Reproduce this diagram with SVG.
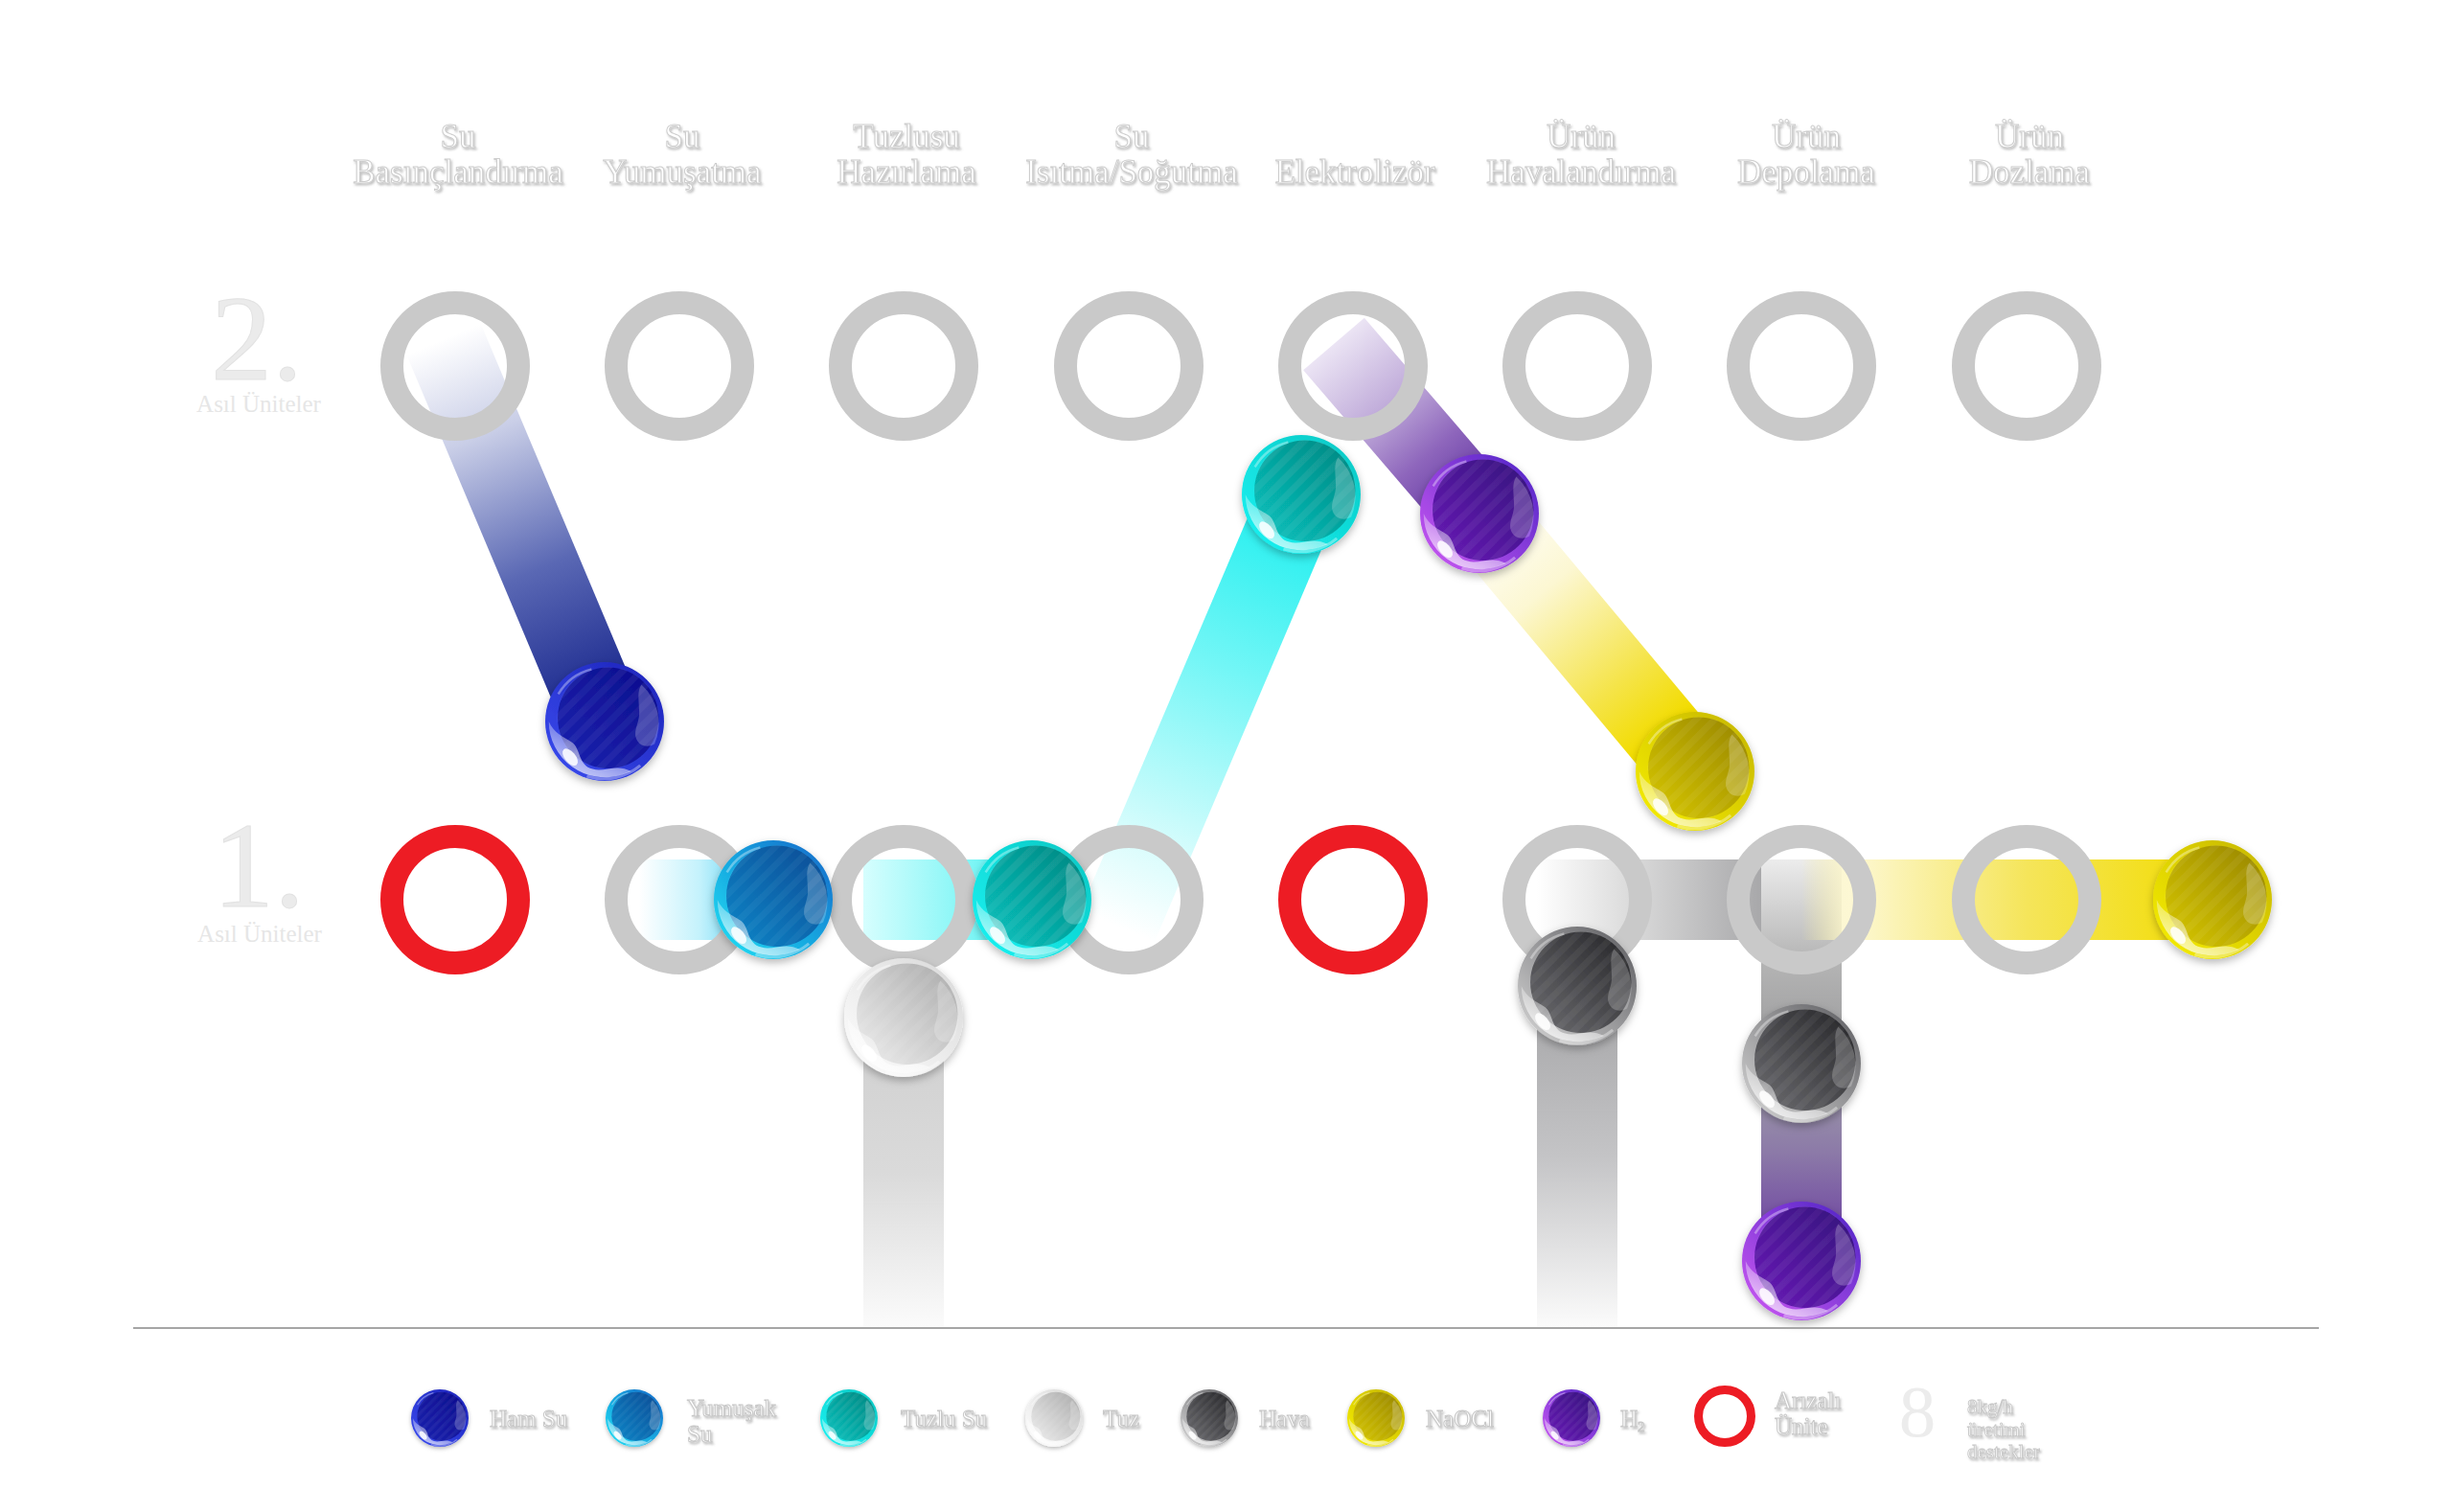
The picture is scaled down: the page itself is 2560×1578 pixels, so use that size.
<svg xmlns="http://www.w3.org/2000/svg" xmlns:xlink="http://www.w3.org/1999/xlink" width="2560" height="1578" viewBox="0 0 2560 1578">
<style>
.ring{fill:none;stroke:#c9c9c9;stroke-width:24}
.fault{fill:none;stroke:#ed1c24;stroke-width:24}
.hdr{font-family:"Liberation Serif","Times New Roman",serif;font-size:35px;fill:#ffffff;stroke:#cdcdcd;stroke-width:1;text-anchor:middle}
.big{font-family:"Liberation Serif","Times New Roman",serif;font-size:128px;fill:#ebebeb;stroke:#e2e2e2;stroke-width:1;text-anchor:middle}
.sub{font-family:"Liberation Serif","Times New Roman",serif;font-size:25px;fill:#e6e6e6;text-anchor:middle}
.leg{font-family:"Liberation Serif","Times New Roman",serif;font-size:25px;fill:#ffffff;stroke:#c8c8c8;stroke-width:1}
.legs{font-family:"Liberation Serif","Times New Roman",serif;font-size:21px;fill:#ffffff;stroke:#c8c8c8;stroke-width:0.9}
.band{fill:none;stroke-width:84;stroke-linecap:butt}
</style>
<defs>
<filter id="emboss" x="-10%" y="-40%" width="120%" height="180%"><feDropShadow dx="1.5" dy="2" stdDeviation="1.2" flood-color="#777" flood-opacity="0.45"/></filter>
<filter id="ballShadow" x="-30%" y="-30%" width="160%" height="170%"><feDropShadow dx="0" dy="6" stdDeviation="7" flood-color="#000" flood-opacity="0.28"/></filter>
<pattern id="stripes" patternUnits="userSpaceOnUse" width="22" height="22" patternTransform="rotate(45)"><rect width="11" height="22" fill="#ffffff" fill-opacity="0.05"/></pattern>
<linearGradient id="glossW" x1="0" y1="1" x2="0.6" y2="0"><stop offset="0" stop-color="#fff" stop-opacity="0.85"/><stop offset="0.6" stop-color="#fff" stop-opacity="0.4"/><stop offset="1" stop-color="#fff" stop-opacity="0.1"/></linearGradient>
<g id="gloss">
<circle r="86" cx="6" cy="-6" fill="url(#stripes)"/>
<path d="M -94 0 A 94 94 0 0 0 30 89 L 45 84 C 20 70 0 86 -20 80 C -45 74 -40 45 -55 35 C -70 25 -85 20 -94 0 Z" fill="url(#glossW)"/>
<ellipse cx="-58" cy="60" rx="9" ry="17" transform="rotate(-40 -58 60)" fill="#fff" fill-opacity="0.85"/>
<path d="M 62 -62 A 88 88 0 0 1 84 38 C 70 46 55 40 52 25 C 50 10 60 0 58 -20 C 57 -40 55 -52 62 -62 Z" fill="#fff" fill-opacity="0.22"/>
<path d="M -78 -46 A 90 90 0 0 1 -22 -88" fill="none" stroke="#fff" stroke-opacity="0.35" stroke-width="4"/>
<path d="M -30 92 A 95 95 0 0 0 60 74" fill="none" stroke="#fff" stroke-opacity="0.35" stroke-width="5"/>
</g>
<linearGradient id="hamB" x1="1" y1="0" x2="0" y2="1"><stop offset="0" stop-color="#1b22b8"/><stop offset="1" stop-color="#3a4cf0"/></linearGradient>
<linearGradient id="hamI" x1="1" y1="0" x2="0" y2="1"><stop offset="0" stop-color="#0c0c8c"/><stop offset="1" stop-color="#1a22b0"/></linearGradient>
<linearGradient id="yumB" x1="1" y1="0" x2="0" y2="1"><stop offset="0" stop-color="#1266c8"/><stop offset="1" stop-color="#1ee4f6"/></linearGradient>
<linearGradient id="yumI" x1="1" y1="0" x2="0" y2="1"><stop offset="0" stop-color="#074a94"/><stop offset="1" stop-color="#0a86c8"/></linearGradient>
<linearGradient id="tzlB" x1="1" y1="0" x2="0" y2="1"><stop offset="0" stop-color="#0cc6c2"/><stop offset="1" stop-color="#16f4f4"/></linearGradient>
<linearGradient id="tzlI" x1="1" y1="0" x2="0" y2="1"><stop offset="0" stop-color="#03857f"/><stop offset="1" stop-color="#08c4c0"/></linearGradient>
<linearGradient id="tuzB" x1="1" y1="0" x2="0" y2="1"><stop offset="0" stop-color="#d8d8d8"/><stop offset="1" stop-color="#ffffff"/></linearGradient>
<linearGradient id="tuzI" x1="1" y1="0" x2="0" y2="1"><stop offset="0" stop-color="#a9a9a9"/><stop offset="1" stop-color="#efefef"/></linearGradient>
<linearGradient id="havB" x1="1" y1="0" x2="0" y2="1"><stop offset="0" stop-color="#5a5a5e"/><stop offset="1" stop-color="#d8d8d8"/></linearGradient>
<linearGradient id="havI" x1="1" y1="0" x2="0" y2="1"><stop offset="0" stop-color="#232326"/><stop offset="1" stop-color="#6e6e72"/></linearGradient>
<linearGradient id="naoB" x1="1" y1="0" x2="0" y2="1"><stop offset="0" stop-color="#c4b400"/><stop offset="1" stop-color="#f8f000"/></linearGradient>
<linearGradient id="naoI" x1="1" y1="0" x2="0" y2="1"><stop offset="0" stop-color="#968400"/><stop offset="1" stop-color="#d8c800"/></linearGradient>
<linearGradient id="h2B" x1="1" y1="0" x2="0" y2="1"><stop offset="0" stop-color="#4a22c4"/><stop offset="1" stop-color="#d05af4"/></linearGradient>
<linearGradient id="h2I" x1="1" y1="0" x2="0" y2="1"><stop offset="0" stop-color="#32107a"/><stop offset="1" stop-color="#6a1cb8"/></linearGradient>
<linearGradient id="gHam" gradientUnits="userSpaceOnUse" x1="463" y1="354" x2="631" y2="753"><stop offset="0" stop-color="#ffffff"/><stop offset="0.25" stop-color="#c9cee7"/><stop offset="0.6" stop-color="#5a68b4"/><stop offset="1" stop-color="#101e88"/></linearGradient>
<linearGradient id="gPur" gradientUnits="userSpaceOnUse" x1="1392" y1="359" x2="1544" y2="536"><stop offset="0" stop-color="#ebe4f4"/><stop offset="0.35" stop-color="#c2aedb"/><stop offset="0.65" stop-color="#8e66bc"/><stop offset="1" stop-color="#5a2c9c"/></linearGradient>
<linearGradient id="gYelD" gradientUnits="userSpaceOnUse" x1="1544" y1="536" x2="1769" y2="805"><stop offset="0" stop-color="#ffffff"/><stop offset="0.3" stop-color="#fcf7d2"/><stop offset="0.65" stop-color="#f5e44a"/><stop offset="0.85" stop-color="#f2dc00"/><stop offset="1" stop-color="#f2dc00"/></linearGradient>
<linearGradient id="gCyD" gradientUnits="userSpaceOnUse" x1="1166" y1="967" x2="1358" y2="516"><stop offset="0" stop-color="#ffffff"/><stop offset="0.2" stop-color="#d6fcfc"/><stop offset="0.6" stop-color="#72f6f6"/><stop offset="1" stop-color="#18eeee"/></linearGradient>
<linearGradient id="gYum" gradientUnits="userSpaceOnUse" x1="667" y1="0" x2="807" y2="0"><stop offset="0" stop-color="#ffffff"/><stop offset="0.45" stop-color="#c4f2fc"/><stop offset="1" stop-color="#36c6f0"/></linearGradient>
<linearGradient id="gTzl" gradientUnits="userSpaceOnUse" x1="901" y1="0" x2="1077" y2="0"><stop offset="0" stop-color="#d6fefe"/><stop offset="0.6" stop-color="#86f6f6"/><stop offset="1" stop-color="#3cf0f0"/></linearGradient>
<linearGradient id="gTuz" gradientUnits="userSpaceOnUse" x1="0" y1="1062" x2="0" y2="1385"><stop offset="0" stop-color="#cfcfcf"/><stop offset="0.5" stop-color="#dadada"/><stop offset="1" stop-color="#fbfbfb"/></linearGradient>
<linearGradient id="gHavV" gradientUnits="userSpaceOnUse" x1="0" y1="1029" x2="0" y2="1385"><stop offset="0" stop-color="#a4a4a6"/><stop offset="0.5" stop-color="#c4c4c6"/><stop offset="1" stop-color="#fbfbfb"/></linearGradient>
<linearGradient id="gHavH" gradientUnits="userSpaceOnUse" x1="1604" y1="0" x2="1838" y2="0"><stop offset="0" stop-color="#ffffff"/><stop offset="0.4" stop-color="#dcdcdc"/><stop offset="1" stop-color="#a8a8aa"/></linearGradient>
<linearGradient id="gHav6" gradientUnits="userSpaceOnUse" x1="0" y1="897" x2="0" y2="1110"><stop offset="0" stop-color="#ececec"/><stop offset="0.5" stop-color="#b4b4b4"/><stop offset="1" stop-color="#98989a"/></linearGradient>
<linearGradient id="gH2V" gradientUnits="userSpaceOnUse" x1="0" y1="1110" x2="0" y2="1316"><stop offset="0" stop-color="#a0a0a8"/><stop offset="0.45" stop-color="#8c7aa8"/><stop offset="1" stop-color="#6636a0"/></linearGradient>
<linearGradient id="gYelH" gradientUnits="userSpaceOnUse" x1="1880" y1="0" x2="2309" y2="0"><stop offset="0" stop-color="#f6ec9a" stop-opacity="0"/><stop offset="0.12" stop-color="#fdf8d4"/><stop offset="0.55" stop-color="#f5e55a"/><stop offset="1" stop-color="#f2dc00"/></linearGradient>
</defs>

<rect width="2560" height="1578" fill="#ffffff"/>

<g id="headers" filter="url(#emboss)">
<g id="h1"><text class="hdr" x="478" y="154">Su</text><text class="hdr" x="478" y="191">Basınçlandırma</text></g>
<g id="h2"><text class="hdr" x="712" y="154">Su</text><text class="hdr" x="712" y="191">Yumuşatma</text></g>
<g id="h3"><text class="hdr" x="946" y="154">Tuzlusu</text><text class="hdr" x="946" y="191">Hazırlama</text></g>
<g id="h4"><text class="hdr" x="1181" y="154">Su</text><text class="hdr" x="1181" y="191">Isıtma/Soğutma</text></g>
<g id="h5"><text class="hdr" x="1414" y="191">Elektrolizör</text></g>
<g id="h6"><text class="hdr" x="1650" y="154">Ürün</text><text class="hdr" x="1650" y="191">Havalandırma</text></g>
<g id="h7"><text class="hdr" x="1885" y="154">Ürün</text><text class="hdr" x="1885" y="191">Depolama</text></g>
<g id="h8"><text class="hdr" x="2118" y="154">Ürün</text><text class="hdr" x="2118" y="191">Dozlama</text></g>
</g>

<g id="row2-label"><text class="big" x="268" y="396">2.</text><text class="sub" x="270" y="430">Asıl Üniteler</text></g>
<g id="row1-label"><text class="big" x="270" y="946">1.</text><text class="sub" x="271" y="983">Asıl Üniteler</text></g>

<g id="connectors">
<line class="band" x1="463" y1="354" x2="631" y2="753" stroke="url(#gHam)" stroke-width="82"/>
<line class="band" x1="1166" y1="967" x2="1358" y2="516" stroke="url(#gCyD)" stroke-width="82"/>
<line class="band" x1="1392" y1="359" x2="1544" y2="536" stroke="url(#gPur)" stroke-width="82"/>
<line class="band" x1="1544" y1="536" x2="1769" y2="805" stroke="url(#gYelD)" stroke-width="82"/>
<line class="band" x1="667" y1="939" x2="807" y2="939" stroke="url(#gYum)"/>
<line class="band" x1="901" y1="939" x2="1077" y2="939" stroke="url(#gTzl)"/>
<line class="band" x1="943" y1="1062" x2="943" y2="1385" stroke="url(#gTuz)"/>
<line class="band" x1="1646" y1="1029" x2="1646" y2="1385" stroke="url(#gHavV)"/>
<line class="band" x1="1604" y1="939" x2="1838" y2="939" stroke="url(#gHavH)"/>
<line class="band" x1="1880" y1="897" x2="1880" y2="1110" stroke="url(#gHav6)"/>
<line class="band" x1="1880" y1="1110" x2="1880" y2="1316" stroke="url(#gH2V)"/>
<line class="band" x1="1880" y1="939" x2="2309" y2="939" stroke="url(#gYelH)"/>
</g>

<g id="units-row2">
<circle id="u2-1" class="ring" cx="475" cy="382" r="66"/>
<circle id="u2-2" class="ring" cx="709" cy="382" r="66"/>
<circle id="u2-3" class="ring" cx="943" cy="382" r="66"/>
<circle id="u2-4" class="ring" cx="1178" cy="382" r="66"/>
<circle id="u2-5" class="ring" cx="1412" cy="382" r="66"/>
<circle id="u2-6" class="ring" cx="1646" cy="382" r="66"/>
<circle id="u2-7" class="ring" cx="1880" cy="382" r="66"/>
<circle id="u2-8" class="ring" cx="2115" cy="382" r="66"/>
</g>
<g id="units-row1">
<circle id="u1-1" class="fault" cx="475" cy="939" r="66"/>
<circle id="u1-2" class="ring" cx="709" cy="939" r="66"/>
<circle id="u1-3" class="ring" cx="943" cy="939" r="66"/>
<circle id="u1-4" class="ring" cx="1178" cy="939" r="66"/>
<circle id="u1-5" class="fault" cx="1412" cy="939" r="66"/>
<circle id="u1-6" class="ring" cx="1646" cy="939" r="66"/>
<circle id="u1-7" class="ring" cx="1880" cy="939" r="66"/>
<circle id="u1-8" class="ring" cx="2115" cy="939" r="66"/>
</g>

<g id="balls">
<g id="b-hamsu" filter="url(#ballShadow)" transform="translate(631 753) scale(0.62)"><circle r="100" fill="url(#hamB)"/><circle cx="6" cy="-6" r="85" fill="url(#hamI)"/><use href="#gloss"/></g>
<g id="b-tuzlu-top" filter="url(#ballShadow)" transform="translate(1358 516) scale(0.62)"><circle r="100" fill="url(#tzlB)"/><circle cx="6" cy="-6" r="85" fill="url(#tzlI)"/><use href="#gloss"/></g>
<g id="b-h2-top" filter="url(#ballShadow)" transform="translate(1544 536) scale(0.62)"><circle r="100" fill="url(#h2B)"/><circle cx="6" cy="-6" r="85" fill="url(#h2I)"/><use href="#gloss"/></g>
<g id="b-naocl-top" filter="url(#ballShadow)" transform="translate(1769 805) scale(0.62)"><circle r="100" fill="url(#naoB)"/><circle cx="6" cy="-6" r="85" fill="url(#naoI)"/><use href="#gloss"/></g>
<g id="b-yumusak" filter="url(#ballShadow)" transform="translate(807 939) scale(0.62)"><circle r="100" fill="url(#yumB)"/><circle cx="6" cy="-6" r="85" fill="url(#yumI)"/><use href="#gloss"/></g>
<g id="b-tuzlu" filter="url(#ballShadow)" transform="translate(1077 939) scale(0.62)"><circle r="100" fill="url(#tzlB)"/><circle cx="6" cy="-6" r="85" fill="url(#tzlI)"/><use href="#gloss"/></g>
<g id="b-tuz" filter="url(#ballShadow)" transform="translate(943 1062) scale(0.62)"><circle r="100" fill="url(#tuzB)"/><circle cx="6" cy="-6" r="85" fill="url(#tuzI)"/><use href="#gloss"/></g>
<g id="b-hava1" filter="url(#ballShadow)" transform="translate(1646 1029) scale(0.62)"><circle r="100" fill="url(#havB)"/><circle cx="6" cy="-6" r="85" fill="url(#havI)"/><use href="#gloss"/></g>
<g id="b-hava2" filter="url(#ballShadow)" transform="translate(1880 1110) scale(0.62)"><circle r="100" fill="url(#havB)"/><circle cx="6" cy="-6" r="85" fill="url(#havI)"/><use href="#gloss"/></g>
<g id="b-h2" filter="url(#ballShadow)" transform="translate(1880 1316) scale(0.62)"><circle r="100" fill="url(#h2B)"/><circle cx="6" cy="-6" r="85" fill="url(#h2I)"/><use href="#gloss"/></g>
<g id="b-naocl" filter="url(#ballShadow)" transform="translate(2309 939) scale(0.62)"><circle r="100" fill="url(#naoB)"/><circle cx="6" cy="-6" r="85" fill="url(#naoI)"/><use href="#gloss"/></g>
</g>

<line id="baseline" x1="139" y1="1386" x2="2420" y2="1386" stroke="#a6a6a6" stroke-width="2"/>

<g id="legend">
<g id="lg-hamsu"><g filter="url(#ballShadow)" transform="translate(459 1480) scale(0.30)"><circle r="100" fill="url(#hamB)"/><circle cx="6" cy="-6" r="85" fill="url(#hamI)"/><use href="#gloss"/></g><text class="leg" x="511" y="1489" filter="url(#emboss)">Ham Su</text></g>
<g id="lg-yumusak"><g filter="url(#ballShadow)" transform="translate(662 1480) scale(0.30)"><circle r="100" fill="url(#yumB)"/><circle cx="6" cy="-6" r="85" fill="url(#yumI)"/><use href="#gloss"/></g><text class="leg" x="717" y="1478" filter="url(#emboss)">Yumuşak</text><text class="leg" x="717" y="1505" filter="url(#emboss)">Su</text></g>
<g id="lg-tuzlu"><g filter="url(#ballShadow)" transform="translate(886 1480) scale(0.30)"><circle r="100" fill="url(#tzlB)"/><circle cx="6" cy="-6" r="85" fill="url(#tzlI)"/><use href="#gloss"/></g><text class="leg" x="940" y="1489" filter="url(#emboss)">Tuzlu Su</text></g>
<g id="lg-tuz"><g filter="url(#ballShadow)" transform="translate(1100 1480) scale(0.30)"><circle r="100" fill="url(#tuzB)"/><circle cx="6" cy="-6" r="85" fill="url(#tuzI)"/><use href="#gloss"/></g><text class="leg" x="1151" y="1489" filter="url(#emboss)">Tuz</text></g>
<g id="lg-hava"><g filter="url(#ballShadow)" transform="translate(1262 1480) scale(0.30)"><circle r="100" fill="url(#havB)"/><circle cx="6" cy="-6" r="85" fill="url(#havI)"/><use href="#gloss"/></g><text class="leg" x="1314" y="1489" filter="url(#emboss)">Hava</text></g>
<g id="lg-naocl"><g filter="url(#ballShadow)" transform="translate(1436 1480) scale(0.30)"><circle r="100" fill="url(#naoB)"/><circle cx="6" cy="-6" r="85" fill="url(#naoI)"/><use href="#gloss"/></g><text class="leg" x="1488" y="1489" filter="url(#emboss)">NaOCl</text></g>
<g id="lg-h2"><g filter="url(#ballShadow)" transform="translate(1640 1480) scale(0.30)"><circle r="100" fill="url(#h2B)"/><circle cx="6" cy="-6" r="85" fill="url(#h2I)"/><use href="#gloss"/></g><text class="leg" x="1691" y="1489" filter="url(#emboss)">H<tspan font-size="15" dy="5">2</tspan></text></g>
<g id="lg-fault"><circle cx="1800" cy="1478" r="27.5" fill="none" stroke="#ed1c24" stroke-width="9"/><text class="leg" x="1852" y="1470" filter="url(#emboss)">Arızalı</text><text class="leg" x="1852" y="1497" filter="url(#emboss)">Ünite</text></g>
<g id="lg-capacity"><text x="2001" y="1499" text-anchor="middle" font-family="Liberation Serif, serif" font-size="77" fill="#ececec">8</text><text class="legs" x="2053" y="1475" filter="url(#emboss)">8kg/h</text><text class="legs" x="2053" y="1499" filter="url(#emboss)">üretimi</text><text class="legs" x="2053" y="1522" filter="url(#emboss)">destekler</text></g>
</g>
</svg>
